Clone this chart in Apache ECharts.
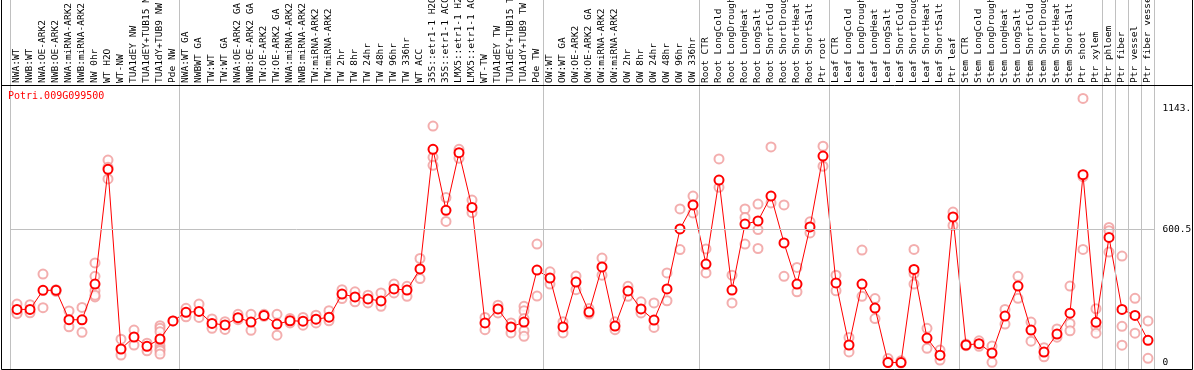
<!DOCTYPE html>
<html><head><meta charset="utf-8">
<script src="https://cdn.jsdelivr.net/npm/echarts@6/dist/echarts.min.js"></script>
<style>html,body{margin:0;padding:0;background:#fff}#c{width:1194px;height:370px}</style>
</head><body><div id="c"></div>
<script>
const geneId = 'Potri.009G099500';
const categories = [
 'NWA:WT','NWB:WT','NWA:OE-ARK2','NWB:OE-ARK2','NWA:miRNA-ARK2','NWB:miRNA-ARK2','NW 0hr','WT H2O','WT-NW','TUA1dEY NW','TUA1dEY+TUB15 NW','TUA1dY+TUB9 NW','Pde NW',
 'NWA:WT GA','NWBWT GA','TW:WT','TW:WT GA','NWA:OE-ARK2 GA','NWB:OE-ARK2 GA','TW:OE-ARK2','TW:OE-ARK2 GA','NWA:miRNA-ARK2','NWB:miRNA-ARK2','TW:miRNA-ARK2','TW:miRNA-ARK2',
 'TW 2hr','TW 8hr','TW 24hr','TW 48hr','TW 96hr','TW 336hr','WT ACC','35S::etr1-1 H2O','35S::etr1-1 ACC','LMX5::etr1-1 H2O','LMX5::etr1-1 ACC','WT-TW','TUA1dEY TW','TUA1dEY+TUB15 TW','TUA1dY+TUB9 TW','Pde TW',
 'OW:WT','OW:WT GA','OW:OE-ARK2','OW:OE-ARK2 GA','OW:miRNA-ARK2','OW:miRNA-ARK2','OW 2hr','OW 8hr','OW 24hr','OW 48hr','OW 96hr','OW 336hr',
 'Root CTR','Root LongCold','Root LongDrought','Root LongHeat','Root LongSalt','Root ShortCold','Root ShortDrought','Root ShortHeat','Root ShortSalt','Ptr root',
 'Leaf CTR','Leaf LongCold','Leaf LongDrought','Leaf LongHeat','Leaf LongSalt','Leaf ShortCold','Leaf ShortDrought','Leaf ShortHeat','Leaf ShortSalt','Ptr leaf',
 'Stem CTR','Stem LongCold','Stem LongDrought','Stem LongHeat','Stem LongSalt','Stem ShortCold','Stem ShortDrought','Stem ShortHeat','Stem ShortSalt','Ptr shoot',
 'Ptr xylem','Ptr phloem','Ptr fiber','Ptr vessel','Ptr fiber vessel'
];
const means = [
 241,241,327,327,195,194,355,871,63,117,75,108,189,
 228,232,178,171,204,184,214,175,190,188,197,206,
 310,297,288,279,333,328,423,961,687,946,700,180,243,162,184,418,
 382,162,364,229,432,166,324,243,193,333,603,711,
 445,823,328,625,639,751,540,355,612,931,
 360,81,355,247,2,2,421,112,35,657,
 81,87,45,211,346,148,49,130,224,847,
 183,565,241,214,102
];
const replicates = [
 [265,226,222],[262,226],[400,249],[330,322],[234,163],[250,138],[450,390,325,297,305],[913,828,880],[107,36],[148,81],[89,55],[168,156,141,99,78,63,55,40],[189],
 [246,208],[265,205],[198,156],[186,151],[219,195],[219,147],[219,210],[219,125],[200,180],[205,170],[215,180],[235,190],
 [330,290],[320,275],[305,270],[315,255],[355,315],[345,300],[470,380],[1066,925,889],[744,637],[961,921],[733,676],[205,150],[260,225],[180,135],[255,235,200,145,120],[535,301],
 [410,355],[185,135],[391,330],[245,220],[472,395],[185,150],[345,300],[275,225],[270,160],[405,280],[693,510],[751,675],
 [513,405],[918,790],[395,270],[693,655,535],[715,600,515],[972,720],[711,390],[430,320],[635,585],[975,885],
 [395,325],[115,50],[508,300],[290,200],[20,5],[10,0],[511,403,355],[156,66],[58,13],[679,619],
 [85,78],[100,75],[76,3],[241,175],[390,291],[184,98],[69,28],[153,116],[346,178,145],[1190,838,511],
 [244,163,134],[610,595,499],[481,165,80],[291,134],[189,21]
];
const groupBoundaries = [0,13,41,53,63,73,84,85,86,87,88];
const yTickValues = [0, 600.5, 1143];
const yTickLabels = ['0', '600.5', '1143.'];
const gridLineValue = 600.5;
const yMin = -27, yMax = 1246;

const font = 'DejaVu Sans Mono';
const repData = [];
replicates.forEach((arr, i) => arr.forEach(v => repData.push([i, v])));

const sepLine = {
  silent: true, symbol: ['none','none'], animation: false,
  label: {show: false},
  lineStyle: {color: '#c0c0c0', type: 'solid', width: 1},
  emphasis: {disabled: true}
};

const chart = echarts.init(document.getElementById('c'), null, {renderer: 'canvas'});
chart.setOption({
  animation: false,
  backgroundColor: '#fff',
  title: {
    text: geneId, left: 8, top: 91, padding: 0,
    textStyle: {color: '#ff0000', fontFamily: font, fontSize: 10, fontWeight: 'normal'}
  },
  grid: [
    {left: 10.5, width: 1144, top: 86, height: 283, containLabel: false, outerBoundsMode: 'none'},
    {left: 10.5, width: 1144, top: 0, height: 86, containLabel: false, outerBoundsMode: 'none'}
  ],
  xAxis: [
    {type: 'category', gridIndex: 0, position: 'top', data: categories, boundaryGap: true,
     axisLine: {show: false}, axisTick: {show: false}, splitLine: {show: false},
     axisLabel: {interval: 0, rotate: 90, margin: 3, hideOverlap: false, fontFamily: font, fontSize: 9.5, color: '#000'}},
    {type: 'value', gridIndex: 0, min: 0, max: 88, show: false},
    {type: 'value', gridIndex: 1, min: 0, max: 88, show: false}
  ],
  yAxis: [
    {type: 'value', gridIndex: 0, min: yMin, max: yMax, position: 'right',
     axisLine: {show: false}, axisTick: {show: false}, splitLine: {show: false},
     axisLabel: {customValues: yTickValues, margin: 8, fontFamily: font, fontSize: 9.5, color: '#000',
       formatter: v => { const k = yTickValues.indexOf(v); return k >= 0 ? yTickLabels[k] : ''; }}},
    {type: 'value', gridIndex: 1, min: 0, max: 1, show: false}
  ],
  graphic: [
    {type: 'rect', silent: true, z: 100, shape: {x: 1.5, y: -2, width: 1191, height: 371.5},
     style: {fill: 'none', stroke: '#000', lineWidth: 1}},
    {type: 'line', silent: true, z: 100, shape: {x1: 1.5, y1: 85.5, x2: 1192.5, y2: 85.5},
     style: {stroke: '#000', lineWidth: 1}}
  ],
  series: [
    {type: 'line', xAxisIndex: 1, yAxisIndex: 0, data: [], z: 1,
     markLine: Object.assign({}, sepLine, {data: groupBoundaries.map(b => ({xAxis: b})).concat([{yAxis: gridLineValue}])})},
    {type: 'line', xAxisIndex: 2, yAxisIndex: 1, data: [], z: 1,
     markLine: Object.assign({}, sepLine, {data: groupBoundaries.map(b => ({xAxis: b}))})},
    {type: 'scatter', xAxisIndex: 0, yAxisIndex: 0, data: repData, z: 2,
     symbol: 'emptyCircle', symbolSize: 9,
     itemStyle: {color: '#f09a9a', borderColor: '#f09a9a', borderWidth: 1.2}},
    {type: 'line', xAxisIndex: 0, yAxisIndex: 0, data: means, z: 3,
     symbol: 'emptyCircle', symbolSize: 9, showAllSymbol: true,
     lineStyle: {color: '#ff0000', width: 1},
     itemStyle: {color: '#ff0000', borderColor: '#ff0000', borderWidth: 1.5}}
  ]
});
</script></body></html>
